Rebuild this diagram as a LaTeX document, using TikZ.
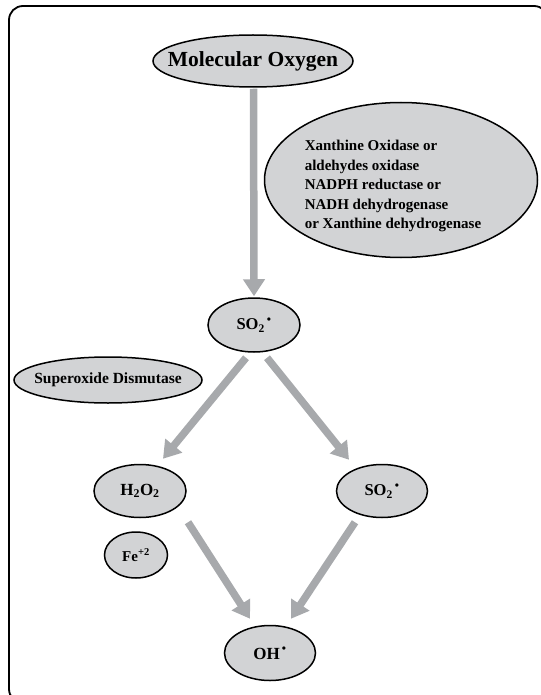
\documentclass[tikz,border=0pt]{standalone}
\usepackage{fontspec}
\setmainfont{Liberation Serif}
\usetikzlibrary{shapes.geometric,arrows.meta,calc}
\definecolor{fillgray}{HTML}{D2D3D5}
\definecolor{arrowgray}{HTML}{A7A9AC}
\newcommand{\rdot}{\textsuperscript{\,\raisebox{0.1ex}{\large •}}}
\begin{document}
\begin{tikzpicture}[x=1pt,y=-1pt,
  oval/.style={ellipse,draw=black,line width=1.5pt,fill=fillgray,inner sep=0pt},
  lbl/.style={inner sep=0pt,font=\bfseries},
  arr/.style={draw=arrowgray,line width=7.5pt,-{Triangle[length=17pt,width=21pt]},arrowgray}]
\useasboundingbox (0,0) rectangle (540,695);
\draw[line width=1.8pt,rounded corners=14pt] (9,6) rectangle (548,703);

\node[oval,minimum width=200pt,minimum height=52pt] (mo) at (253,61) {};
\node[lbl,font=\bfseries\fontsize{21.5}{24}\selectfont] (mot) at (mo) {Molecular Oxygen};
\node[oval,minimum width=273pt,minimum height=155pt] (enz) at (401,180) {};
\node[lbl,font=\bfseries\fontsize{15}{19.5}\selectfont,align=left] (enzt) at (393,186) {Xanthine Oxidase or\\aldehydes oxidase\\NADPH reductase or\\NADH dehydrogenase\\or Xanthine dehydrogenase};
\node[oval,minimum width=92pt,minimum height=54pt] (so2a) at (254,325) {};
\node[lbl,font=\bfseries\fontsize{16.5}{20}\selectfont] (so2at) at (so2a) {SO\textsubscript{2}\rdot};
\node[oval,minimum width=188pt,minimum height=46pt] (sod) at (108,380) {};
\node[lbl,font=\bfseries\fontsize{15.5}{18}\selectfont] (sodt) at (sod) {Superoxide Dismutase};
\node[oval,minimum width=92pt,minimum height=53pt] (h2o2) at (140,491) {};
\node[lbl,font=\bfseries\fontsize{17}{20}\selectfont] (h2o2t) at (h2o2) {H\textsubscript{2}O\textsubscript{2}};
\node[oval,minimum width=91pt,minimum height=53pt] (so2b) at (382,491) {};
\node[lbl,font=\bfseries\fontsize{16.5}{20}\selectfont] (so2bt) at (so2b) {SO\textsubscript{2}\rdot};
\node[oval,minimum width=63pt,minimum height=46pt] (fe) at (136,555) {};
\node[lbl,font=\bfseries\fontsize{15}{18}\selectfont] (fet) at (fe) {Fe\textsuperscript{+2}};
\node[oval,minimum width=91pt,minimum height=55pt] (oh) at (270,653) {};
\node[lbl,font=\bfseries\fontsize{17}{20}\selectfont] (oht) at (oh) {OH\rdot};

\draw[arr] ($(mo.south)+(0.5,1)$) -- ($(so2a.north)+(0,-1)$);
\draw[arr] ($(so2a.south)+(-8,5)$) -- ($(h2o2.north)+(23,-5)$);
\draw[arr] ($(so2a.south)+(13,5)$) -- ($(so2b.north)+(-33,-4)$);
\draw[arr] ($(h2o2.south)+(48,4)$) -- ($(oh.north)+(-20,-6)$);
\draw[arr] ($(so2b.south)+(-27,4)$) -- ($(oh.north)+(21,-6)$);
\end{tikzpicture}
\end{document}
